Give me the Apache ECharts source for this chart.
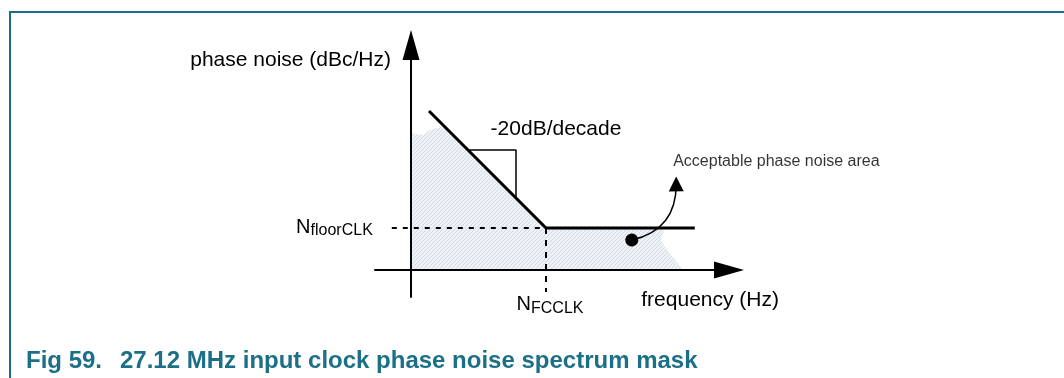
<!DOCTYPE html>
<html>
<head>
<meta charset="utf-8">
<script src="https://cdn.jsdelivr.net/npm/echarts@6/dist/echarts.min.js"></script>
<style>
  html, body { margin: 0; padding: 0; background: #ffffff; }
  #chart { width: 1064px; height: 378px; }
</style>
</head>
<body>
<div id="chart"></div>
<script>
// Schematic units: x = decades of offset frequency, y = dB above the plot origin.

// Phase noise mask: -20 dB/decade roll-off, then the flat floor
const maskLine = [[0.3, 53], [2.25, 14], [4.73, 14]];
// Dotted guides from the corner to both axes
const floorGuide = [[-0.32, 14], [2.25, 14]];
const cornerGuide = [[2.25, 14], [2.25, -7.3]];
// Slope indicator: 0.8 decade run, 16 dB drop
const slopeMarker = [[0.95, 40], [1.75, 40], [1.75, 24]];
// Outline of the hatched acceptable region under the mask
const acceptableArea = [
  [0, 0], [0, 45.7], [0.1, 45.3], [0.2, 45], [0.3, 46.5], [0.4, 47.2], [0.55, 48],
  [2.25, 14], [4.23, 14], [4.17, 10], [4.22, 8], [4.32, 5.3], [4.43, 2.7], [4.53, 0]
];
// Callout arrow: from the dot inside the region up to its caption
const noteArrow = [[3.68, 10], [4.42, 28.7]];

const axisNames = ['frequency (Hz)', 'phase noise (dBc/Hz)'];
const slopeText = '-20dB/decade';
const areaText = 'Acceptable phase noise area';
const floorText = ['N', 'floorCLK'];
const cornerText = ['N', 'FCCLK'];
const titleText = ['Fig 59.', '27.12 MHz input clock phase noise spectrum mask'];

const FONT = '"Liberation Sans", Arial, Helvetica, sans-serif';
const TEAL = '#1b6f87';

function hatchCanvas() {
  const c = document.createElement('canvas');
  c.width = 4; c.height = 4;
  const g = c.getContext('2d');
  g.fillStyle = '#eef2f6';
  g.fillRect(0, 0, 4, 4);
  g.strokeStyle = '#d2dbe4';
  g.lineWidth = 1;
  g.beginPath();
  g.moveTo(0, 4); g.lineTo(4, 0);
  g.moveTo(-1, 1); g.lineTo(1, -1);
  g.moveTo(3, 5); g.lineTo(5, 3);
  g.stroke();
  return c;
}
const hatch = hatchCanvas();

const subRich = {
  n: { fontFamily: FONT, fontSize: 20, lineHeight: 20, verticalAlign: 'top', color: '#000' },
  s: { fontFamily: FONT, fontSize: 16, lineHeight: 22, verticalAlign: 'bottom', color: '#000' }
};

const axisCommon = {
  type: 'value',
  z: 5,
  splitLine: { show: false },
  axisTick: { show: false },
  axisLabel: { show: false },
  axisLine: {
    show: true,
    onZero: true,
    symbol: ['none', 'triangle'],
    symbolSize: [17, 30],
    lineStyle: { color: '#000', width: 2 }
  },
  nameLocation: 'end',
  nameMoveOverlap: false
};

const option = {
  animation: false,
  backgroundColor: '#ffffff',
  graphic: [{
    type: 'rect', silent: true,
    shape: { x: 10, y: 12, width: 1200, height: 500 },
    style: { fill: 'none', stroke: TEAL, lineWidth: 2 }
  }],
  title: {
    text: '{a|' + titleText[0] + '}{b|' + titleText[1] + '}',
    left: 26, top: 348, padding: 0,
    textStyle: {
      rich: {
        a: { fontFamily: FONT, fontSize: 24, fontWeight: 'bold', color: TEAL, width: 94, lineHeight: 26 },
        b: { fontFamily: FONT, fontSize: 24, fontWeight: 'bold', color: TEAL, lineHeight: 26 }
      }
    }
  },
  grid: { left: 375, right: 335, top: 45, bottom: 81, containLabel: false },
  xAxis: Object.assign({}, axisCommon, {
    min: -0.6, max: 5.3,
    name: axisNames[0],
    nameGap: 50,
    nameTextStyle: {
      fontFamily: FONT, fontSize: 21, lineHeight: 20, color: '#000',
      align: 'right', verticalAlign: 'top', padding: [20, 0, 0, 0]
    }
  }),
  yAxis: Object.assign({}, axisCommon, {
    min: -9, max: 75,
    name: axisNames[1],
    nameGap: -15,
    nameTextStyle: {
      fontFamily: FONT, fontSize: 21, lineHeight: 22, color: '#000',
      align: 'right', verticalAlign: 'middle', padding: [0, 20, 0, 0]
    }
  }),
  series: [
    {
      type: 'custom', name: 'acceptable area', z: 1, silent: true,
      coordinateSystem: 'cartesian2d',
      data: [[0, 0]],
      renderItem: function (params, api) {
        return {
          type: 'polygon',
          shape: { points: acceptableArea.map(function (p) { return api.coord(p); }) },
          style: { fill: { image: hatch, repeat: 'repeat' }, stroke: null }
        };
      }
    },
    {
      type: 'line', name: 'floor guide', z: 2, silent: true,
      symbol: 'circle', symbolSize: 0,
      lineStyle: { color: '#000', width: 2, type: [5, 6] },
      data: floorGuide.map(function (p, i) {
        return i === 0 ? {
          value: p,
          label: {
            show: true, position: 'left', distance: 19,
            formatter: '{n|' + floorText[0] + '}{s|' + floorText[1] + '}',
            rich: subRich
          }
        } : { value: p };
      })
    },
    {
      type: 'line', name: 'corner guide', z: 2, silent: true,
      symbol: 'circle', symbolSize: 0,
      lineStyle: { color: '#000', width: 2, type: [6, 6] },
      data: cornerGuide.map(function (p, i) {
        return i === 1 ? {
          value: p,
          label: {
            show: true, position: 'bottom', distance: 3, offset: [4, 0],
            formatter: '{n|' + cornerText[0] + '}{s|' + cornerText[1] + '}',
            rich: subRich
          }
        } : { value: p };
      })
    },
    {
      type: 'line', name: 'mask', z: 3, silent: true,
      symbol: 'none',
      lineStyle: { color: '#000', width: 3, cap: 'butt', join: 'miter' },
      data: maskLine
    },
    {
      type: 'line', name: 'slope marker', z: 3, silent: true,
      symbol: 'circle', symbolSize: 0,
      lineStyle: { color: '#000', width: 1.5 },
      data: slopeMarker.map(function (p, i) {
        return i === 1 ? {
          value: p,
          label: {
            show: true, position: 'top', distance: 11, offset: [40, 0],
            formatter: slopeText,
            fontFamily: FONT, fontSize: 21, lineHeight: 20, color: '#000'
          }
        } : { value: p };
      })
    },
    {
      type: 'lines', name: 'callout', z: 4, silent: true,
      coordinateSystem: 'cartesian2d',
      symbol: ['circle', 'triangle'],
      symbolSize: [13, 15],
      lineStyle: { color: '#000', width: 1.5, curveness: -0.4, opacity: 1 },
      itemStyle: { color: '#000' },
      data: [{ coords: noteArrow }]
    },
    {
      type: 'scatter', name: 'callout caption', z: 4, silent: true,
      symbolSize: 0,
      data: [{
        value: noteArrow[1],
        label: {
          show: true, position: 'top', align: 'left', distance: 14, offset: [-3, 0],
          formatter: areaText,
          fontFamily: FONT, fontSize: 16, lineHeight: 16, color: '#000'
        }
      }]
    }
  ]
};

const chart = echarts.init(document.getElementById('chart'), null, { renderer: 'canvas' });
chart.setOption(option);
</script>
</body>
</html>
